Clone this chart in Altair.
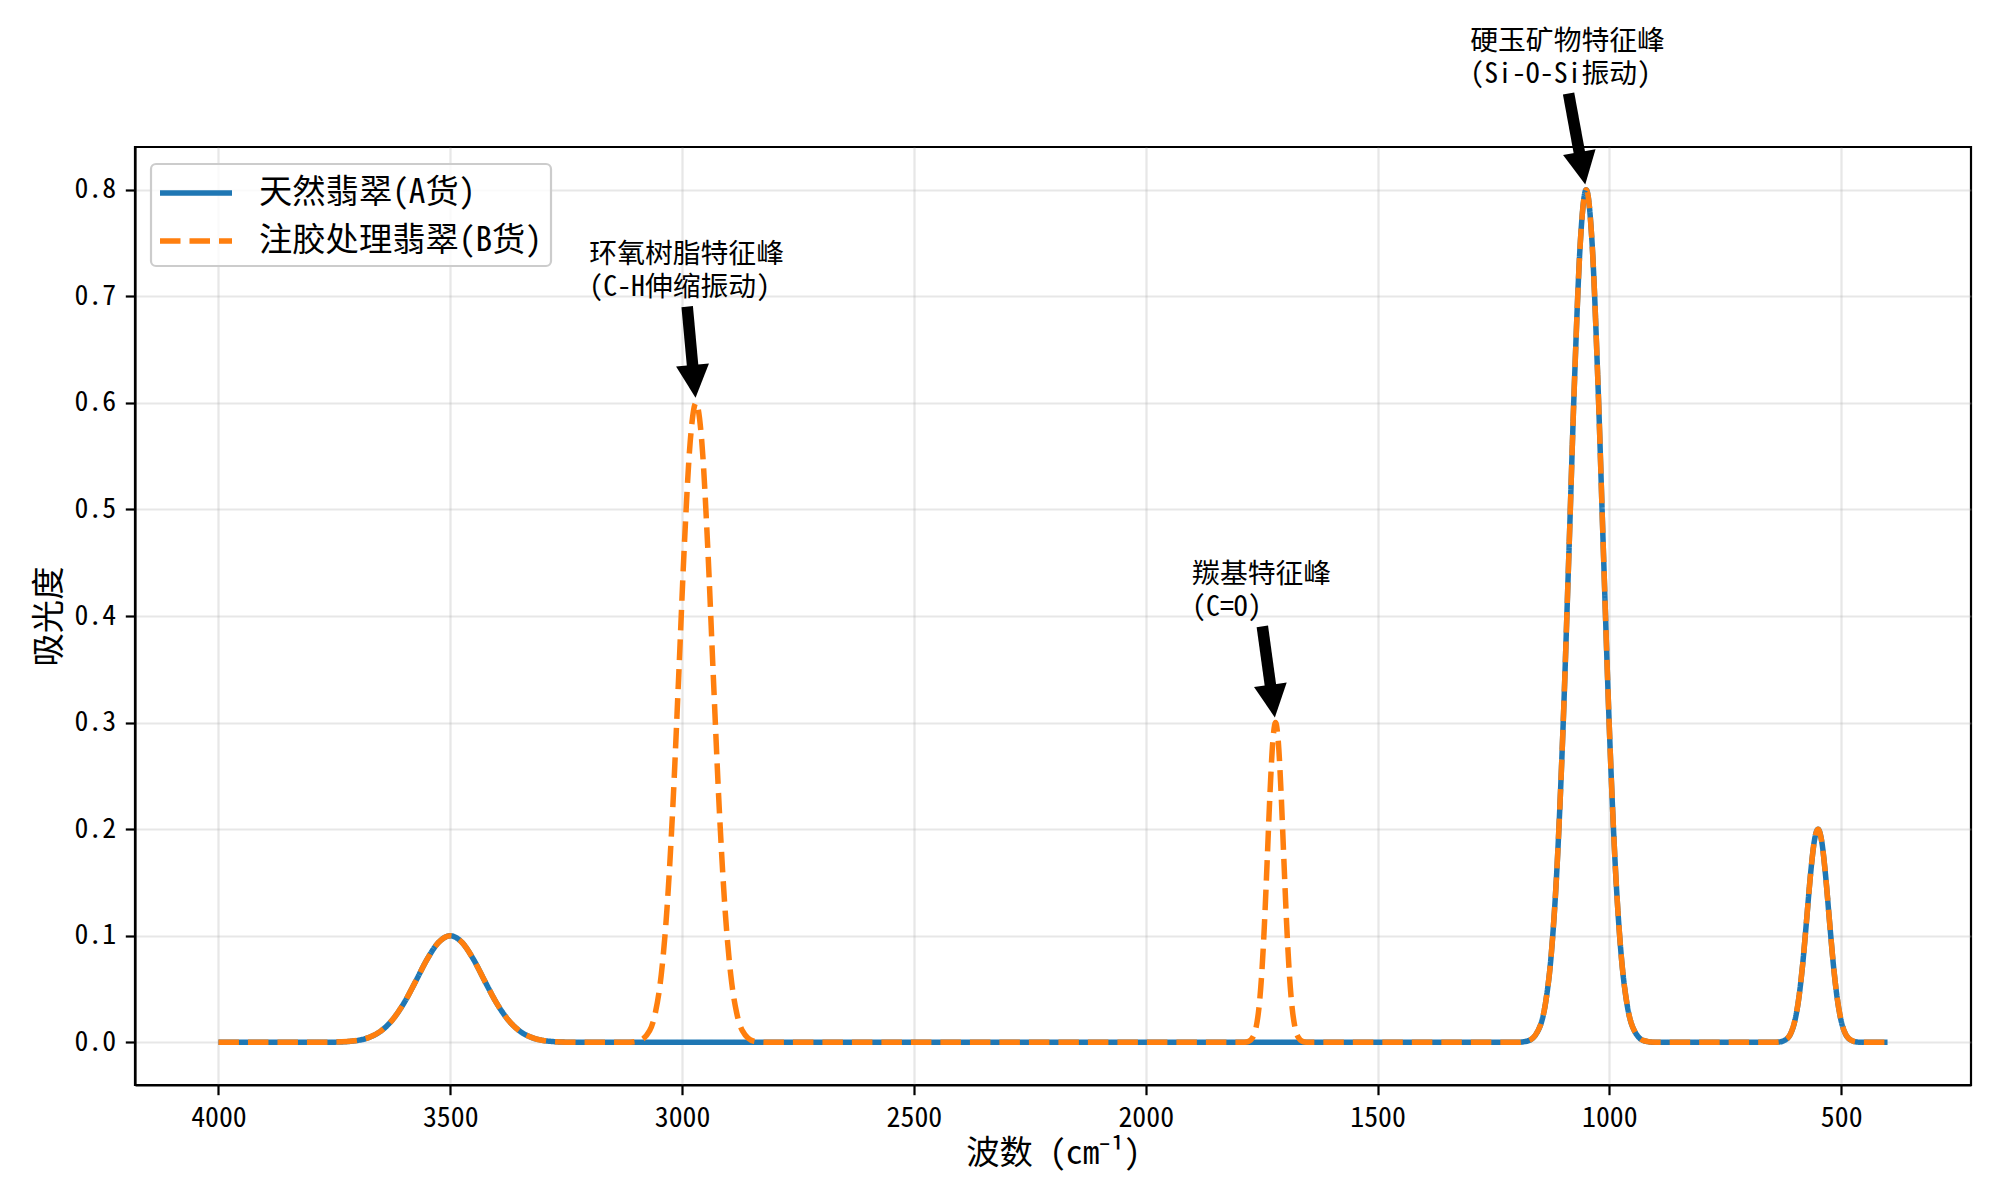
import math
import altair as alt
import pandas as pd

# ---------------- data ----------------
NAME_A = "天然翡翠(A货)"
NAME_B = "注胶处理翡翠(B货)"

# O-H band around 3500 (both samples)
seg1_x = [4000, 3800, 3750, 3700, 3675, 3650, 3625, 3600, 3575, 3550, 3525, 3500,
          3475, 3450, 3425, 3400, 3375, 3350, 3325, 3300, 3250, 3200]
seg1_y = [0, 0, 0.0002, 0.0018, 0.0047, 0.0105, 0.0210, 0.0368, 0.0570, 0.0779, 0.0939, 0.1,
          0.0939, 0.0779, 0.0570, 0.0368, 0.0210, 0.0105, 0.0047, 0.0018, 0.0002, 0]

# epoxy resin C-H band (B only)
seg2_x = [3120, 3095, 3070, 3057.5, 3045, 3032.5, 3020, 3007.5, 2995, 2982.5, 2970,
          2957.5, 2945, 2932.5, 2920, 2907.5, 2895, 2882.5, 2870, 2845, 2820]
seg2_b = [0, 0.0011, 0.0110, 0.0281, 0.0632, 0.1258, 0.2207, 0.3419, 0.4673, 0.5636, 0.6,
          0.5636, 0.4673, 0.3419, 0.2207, 0.1258, 0.0632, 0.0281, 0.0110, 0.0011, 0]
seg2_a = [0.0] * len(seg2_x)

# carbonyl C=O band (B only)
seg3_x = [1792, 1780, 1768, 1762, 1756, 1750, 1744, 1738, 1732, 1726, 1720,
          1714, 1708, 1702, 1696, 1690, 1684, 1678, 1672, 1660, 1648]
seg3_b = [0, 0.0006, 0.0055, 0.0140, 0.0316, 0.0629, 0.1104, 0.1709, 0.2336, 0.2818, 0.3,
          0.2818, 0.2336, 0.1709, 0.1104, 0.0629, 0.0316, 0.0140, 0.0055, 0.0006, 0]
seg3_a = [0.0] * len(seg3_x)

# jadeite Si-O-Si band (both)
seg4_x = [1200, 1175, 1150, 1137.5, 1125, 1112.5, 1100, 1087.5, 1075, 1062.5, 1050,
          1037.5, 1025, 1012.5, 1000, 987.5, 975, 962.5, 950, 925, 900]
seg4_y = [0, 0.0015, 0.0146, 0.0374, 0.0843, 0.1677, 0.2943, 0.4558, 0.6230, 0.7515, 0.8,
          0.7515, 0.6230, 0.4558, 0.2943, 0.1677, 0.0843, 0.0374, 0.0146, 0.0015, 0]

# band around 550 (both)
seg5_x = [649, 633, 616, 608, 600, 591, 583, 575, 566, 558, 550,
          542, 534, 525, 517, 509, 500, 492, 484, 467, 451, 400]
seg5_y = [0, 0.0004, 0.0037, 0.0091, 0.0201, 0.0427, 0.0736, 0.1127, 0.1581, 0.1886, 0.2,
          0.1886, 0.1581, 0.1127, 0.0736, 0.0427, 0.0201, 0.0091, 0.0037, 0.0004, 0, 0]

wavenumber = seg1_x + seg2_x + seg3_x + seg4_x + seg5_x
absorb_A = seg1_y + seg2_a + seg3_a + seg4_y + seg5_y
absorb_B = seg1_y + seg2_b + seg3_b + seg4_y + seg5_y

x_ticks = [500, 1000, 1500, 2000, 2500, 3000, 3500, 4000]
y_ticks = [0.0, 0.1, 0.2, 0.3, 0.4, 0.5, 0.6, 0.7, 0.8]

# annotations: text anchor (left edge, baseline of the last line)
ann_x = [3200, 1900, 1300]
ann_y = [0.7, 0.4, 0.9]
ann_text = ["环氧树脂特征峰\n(C-H伸缩振动)", "羰基特征峰\n(C=O)", "硬玉矿物特征峰\n(Si-O-Si振动)"]
# arrows: start (below the text, centred) -> annotated peak
arrow_start_x = [2990, 1750, 1090]
arrow_start_y = [0.695, 0.395, 0.895]
arrow_end_x = [2970, 1720, 1050]
arrow_end_y = [0.6, 0.3, 0.8]

# ---------------- layout / style ----------------
FONT = "Noto Sans Mono CJK SC, Noto Sans CJK SC, sans-serif"
W, H = 1836, 938
X_MIN, X_MAX = 220, 4180
Y_MIN, Y_MAX = -0.04, 0.84
PX_X = W / (X_MAX - X_MIN)
PX_Y = H / (Y_MAX - Y_MIN)
HEAD = 33.0   # arrow head length / width in px
SHRINK = 0.05

line_df = pd.concat([
    pd.DataFrame({"wavenumber": wavenumber, "absorbance": absorb_A, "sample": NAME_A}),
    pd.DataFrame({"wavenumber": wavenumber, "absorbance": absorb_B, "sample": NAME_B}),
], ignore_index=True)

ann_df = pd.DataFrame({"x": ann_x, "y": ann_y, "label": ann_text})

rows = []
for sx, sy, ex, ey in zip(arrow_start_x, arrow_start_y, arrow_end_x, arrow_end_y):
    tx, ty = sx + SHRINK * (ex - sx), sy + SHRINK * (ey - sy)
    px, py = ex - SHRINK * (ex - sx), ey - SHRINK * (ey - sy)
    dxp = -(px - tx) * PX_X
    dyp = -(py - ty) * PX_Y
    L = math.hypot(dxp, dyp)
    f = (HEAD - 1) / L
    nx, ny = px - f * (px - tx), py - f * (py - ty)
    ang = (-math.degrees(math.atan2(dxp, dyp))) % 360
    rows.append({"tail_x": tx, "tail_y": ty, "neck_x": nx, "neck_y": ny,
                 "tip_x": px, "tip_y": py, "angle": ang})
arrow_df = pd.DataFrame(rows)

xscale = alt.Scale(domain=[X_MIN, X_MAX], reverse=True, nice=False, zero=False)
yscale = alt.Scale(domain=[Y_MIN, Y_MAX], nice=False, zero=False)
xaxis = alt.Axis(values=x_ticks, format="d", title="波数 (cm⁻¹)", grid=True,
                 labelFlush=False, titleY=68, titleBaseline="middle")
yaxis = alt.Axis(values=y_ticks, format=".1f", title="吸光度", grid=True,
                 labelFlush=False, titleX=-86, titleY=H / 2, titleAngle=270,
                 titleBaseline="middle", titleAlign="center")


def X(f):
    return alt.X(f, type="quantitative", scale=xscale, axis=xaxis)


def Y(f):
    return alt.Y(f, type="quantitative", scale=yscale, axis=yaxis)


color = alt.Color("sample:N", title=None,
                  scale=alt.Scale(domain=[NAME_A, NAME_B], range=["#1f77b4", "#ff7f0e"]))
dash = alt.StrokeDash("sample:N", title=None,
                      scale=alt.Scale(domain=[NAME_A, NAME_B], range=[[1, 0], [20.5, 9]]))

base = alt.Chart(line_df)
line_a = base.transform_filter(alt.datum.sample == NAME_A).mark_line(
    strokeWidth=5.5, interpolate="monotone", strokeCap="butt").encode(
    x=X("wavenumber"), y=Y("absorbance"), color=color, strokeDash=dash,
    order=alt.Order("wavenumber:Q", sort="descending"))
line_b = base.transform_filter(alt.datum.sample == NAME_B).mark_line(
    strokeWidth=5.5, interpolate="monotone", strokeCap="butt").encode(
    x=X("wavenumber"), y=Y("absorbance"), color=color, strokeDash=dash,
    order=alt.Order("wavenumber:Q", sort="descending"))

txt = alt.Chart(ann_df).mark_text(align="left", baseline="top", dy=-55, lineBreak="\n",
                                  lineHeight=33, fontSize=27.8, font=FONT,
                                  color="black").encode(
    x=X("x"), y=Y("y"), text="label:N")

shaft = alt.Chart(arrow_df).mark_rule(strokeWidth=11.5, color="black", strokeCap="butt").encode(
    x=X("tail_x"), y=Y("tail_y"), x2="neck_x", y2="neck_y")
head = alt.Chart(arrow_df).mark_point(shape="M -1 -2 L 1 -2 L 0 0 Z", size=HEAD * HEAD,
                                      filled=True, color="black", opacity=1, strokeWidth=0).encode(
    x=X("tip_x"), y=Y("tip_y"), angle=alt.Angle("angle:Q", scale=None))

chart = alt.layer(line_a, line_b, txt, shaft, head).properties(
    width=W, height=H,
    padding={"left": 127, "top": 139, "right": 10, "bottom": 90},
    autosize=alt.AutoSizeParams(type="none"),
    background="white",
).configure_view(
    stroke="black", strokeWidth=2.2
).configure_axis(
    domainColor="black", domainWidth=2.2,
    tickColor="black", tickWidth=2.2, tickSize=9.7,
    labelPadding=9.7, labelFontSize=27.8, labelColor="black", labelFont=FONT,
    titleFontSize=33.3, titleColor="black", titleFont=FONT, titleFontWeight="normal",
    gridColor="#b0b0b0", gridOpacity=0.3, gridWidth=2.2,
).configure_legend(
    orient="none", legendX=16, legendY=17, padding=8,
    strokeColor="#cccccc", strokeWidth=2.2, fillColor="rgba(255,255,255,0.8)", cornerRadius=5,
    labelFontSize=33.3, labelFont=FONT, labelColor="black", labelLimit=600,
    symbolType="M -1 0 L 3 0", symbolSize=1296, symbolStrokeWidth=5.5, symbolOpacity=1,
    symbolOffset=-2, rowPadding=10, labelOffset=60,
)

chart.save("out.html", embed_options={"renderer": "svg", "actions": False})
